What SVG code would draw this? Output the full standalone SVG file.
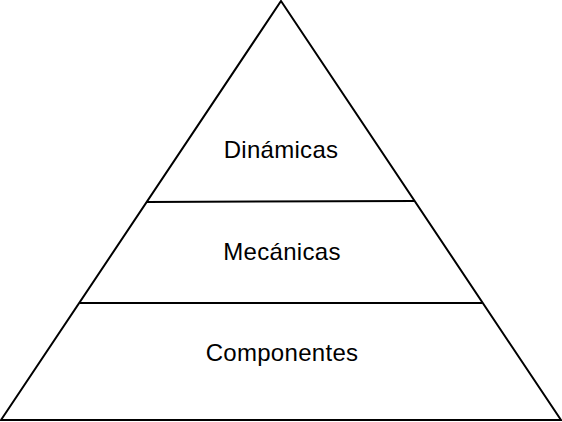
<svg xmlns="http://www.w3.org/2000/svg" width="562" height="422" viewBox="0 0 562 422">
<style>
.s{fill:none;stroke:#000;stroke-width:2;stroke-linejoin:miter}
.t{font-family:"Liberation Sans",Arial,sans-serif;font-size:24px;letter-spacing:0.3px;fill:#000;text-anchor:middle}
</style>
<rect width="562" height="422" fill="#fff"/>
<g id="pyramid">
<path class="s" d="M281 1 L561 420 L1 420 Z"/>
</g>
<g id="connectors">
<line class="s" x1="147" y1="202" x2="414" y2="201"/>
<line class="s" x1="80" y1="303" x2="482" y2="303"/>
</g>
<g id="dinamicas"><text class="t" x="281" y="158">Dinámicas</text></g>
<g id="mecanicas"><text class="t" x="282" y="260">Mecánicas</text></g>
<g id="componentes"><text class="t" x="282" y="361">Componentes</text></g>
</svg>
